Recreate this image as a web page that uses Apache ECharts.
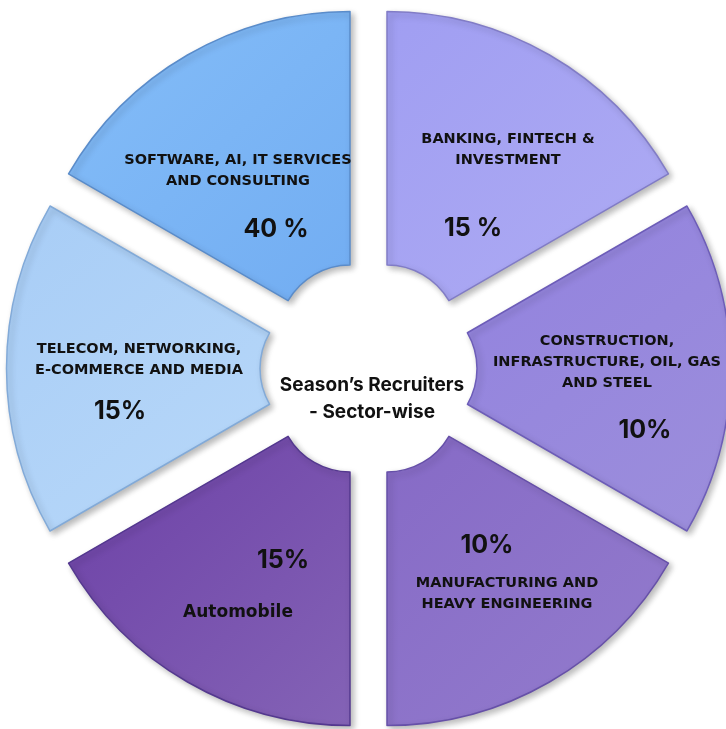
<!DOCTYPE html>
<html>
<head>
<meta charset="utf-8">
<script src="https://cdn.jsdelivr.net/npm/echarts@6/dist/echarts.min.js"></script>
<style>
  html, body { margin: 0; padding: 0; background: #fff; }
  #chart { width: 726px; height: 729px; }
</style>
</head>
<body>
<div id="chart"></div>
<script>
// sectors, clockwise from 12 o'clock
let sectors = ['Banking', 'Construction', 'Manufacturing', 'Automobile', 'Telecom', 'Software'];
// every slice in the picture is the same size
let sliceSize = [1, 1, 1, 1, 1, 1];
let sectorTitles = [
  'BANKING, FINTECH &\nINVESTMENT',
  'CONSTRUCTION,\nINFRASTRUCTURE, OIL, GAS\nAND STEEL',
  'MANUFACTURING AND\nHEAVY ENGINEERING',
  'Automobile',
  'TELECOM, NETWORKING,\nE-COMMERCE AND MEDIA',
  'SOFTWARE, AI, IT SERVICES\nAND CONSULTING'
];
let percentLabels = ['15 %', '10%', '10%', '15%', '15%', '40 %'];
let centerTitle = 'Season\u2019s Recruiters\n- Sector-wise';

// look of each slice (top-left colour -> bottom-right colour, border)
let sliceColors = [
  ['#a09ef2', '#aeabf3', '#817cc6'],
  ['#9282df', '#9c8edb', '#6d5db8'],
  ['#866ac6', '#937ccd', '#6650a8'],
  ['#6c40a6', '#8463b6', '#54388f'],
  ['#a8cdf6', '#b8d8f9', '#82aad8'],
  ['#84bdf8', '#72adf2', '#5a8cca']
];
// where the texts sit: [titleX, titleY, percentX, percentY]
let labelPos = [
  [508, 150, 473, 228],
  [607, 362, 645, 430],
  [507, 594, 487, 545],
  [238, 613, 283, 560],
  [139, 360, 120, 411],
  [238, 171, 276, 229]
];

let myChart = echarts.init(document.getElementById('chart'));

let pieData = [];
for (let i = 0; i < sectors.length; i++) {
  pieData.push({
    name: sectors[i],
    value: sliceSize[i],
    selected: true,
    itemStyle: {
      color: {
        type: 'linear', x: 0, y: 0, x2: 1, y2: 1,
        colorStops: [
          { offset: 0, color: sliceColors[i][0] },
          { offset: 1, color: sliceColors[i][1] }
        ]
      },
      borderColor: sliceColors[i][2]
    }
  });
}

let texts = [];
for (let i = 0; i < sectors.length; i++) {
  let isCaps = sectorTitles[i] === sectorTitles[i].toUpperCase();
  texts.push({
    type: 'text',
    x: labelPos[i][0],
    y: labelPos[i][1],
    z: 10,
    style: {
      text: sectorTitles[i],
      textAlign: 'center',
      textVerticalAlign: 'middle',
      font: isCaps ? 'bold 14.5px "DejaVu Sans"' : 'bold 17px "DejaVu Sans"',
      lineHeight: 21,
      fill: '#111'
    }
  });
  texts.push({
    type: 'text',
    x: labelPos[i][2],
    y: labelPos[i][3],
    z: 10,
    style: {
      text: percentLabels[i],
      textAlign: 'center',
      textVerticalAlign: 'middle',
      font: '700 25px Inter',
      fill: '#111'
    }
  });
}
texts.push({
  type: 'text',
  x: 372,
  y: 399,
  z: 10,
  style: {
    text: centerTitle,
    textAlign: 'center',
    textVerticalAlign: 'middle',
    font: '700 19px Inter',
    lineHeight: 27,
    fill: '#111'
  }
});

let option = {
  animation: false,
  series: [{
    type: 'pie',
    center: [368.5, 368.5],
    radius: [71.5, 325],
    startAngle: 90,
    clockwise: true,
    selectedMode: 'multiple',
    selectedOffset: 37,
    silent: true,
    label: { show: false },
    labelLine: { show: false },
    itemStyle: {
      borderWidth: 1.5,
      shadowBlur: 6,
      shadowOffsetX: 3,
      shadowOffsetY: 3,
      shadowColor: 'rgba(0,0,0,0.28)'
    },
    data: pieData
  }],
  graphic: texts
};
myChart.setOption(option);
</script>
</body>
</html>
